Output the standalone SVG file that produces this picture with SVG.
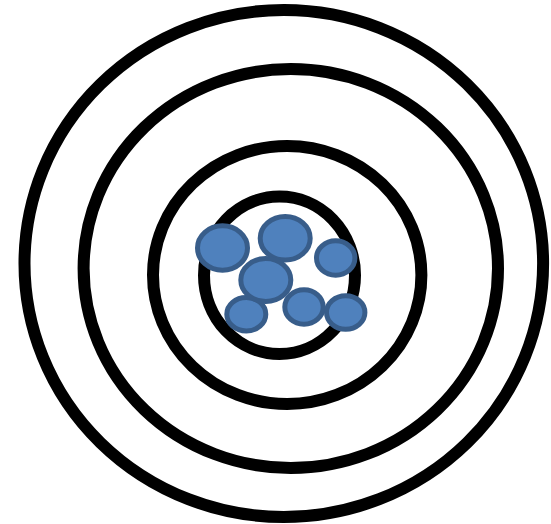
<svg xmlns="http://www.w3.org/2000/svg" width="551" height="524" viewBox="0 0 551 524">
<style>
.ring{fill:none;stroke:#000;stroke-width:12}
.dot{fill:#4F81BD;stroke:#385D8A;stroke-width:5}
</style>
<rect width="551" height="524" fill="#fff"/>
<g id="rings">
<ellipse id="ring1" class="ring" cx="283.8" cy="263.5" rx="259.3" ry="253.5"/>
<ellipse id="ring2" class="ring" cx="290.8" cy="268.5" rx="207.2" ry="199.5"/>
<ellipse id="ring3" class="ring" cx="287.2" cy="275" rx="134.2" ry="129"/>
<ellipse id="ring4" class="ring" cx="279.5" cy="275.3" rx="75.5" ry="78.7"/>
</g>
<g id="dots">
<ellipse id="dotA" class="dot" cx="222.5" cy="248" rx="25" ry="22.2"/>
<ellipse id="dotB" class="dot" cx="285.2" cy="238.3" rx="25" ry="21.8"/>
<ellipse id="dotC" class="dot" cx="335.7" cy="258" rx="19.2" ry="17.2"/>
<ellipse id="dotE" class="dot" cx="246.3" cy="314.2" rx="19.5" ry="16.7"/>
<ellipse id="dotD" class="dot" cx="265.8" cy="280" rx="25" ry="21.5"/>
<ellipse id="dotF" class="dot" cx="304" cy="307" rx="19.2" ry="17.2"/>
<ellipse id="dotG" class="dot" cx="345.7" cy="312.5" rx="19.2" ry="16.7"/>
</g>
</svg>
